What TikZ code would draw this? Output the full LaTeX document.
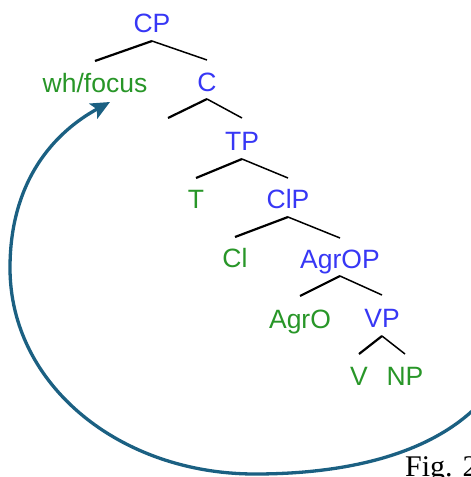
\documentclass[tikz,border=0pt]{standalone}
\usepackage{fontspec}
\setmainfont{Liberation Sans}
\newfontfamily\figfont{Liberation Serif}
\usetikzlibrary{arrows.meta}
\definecolor{catblue}{RGB}{55,55,245}
\definecolor{leafgreen}{RGB}{40,150,40}
\definecolor{movecol}{RGB}{27,96,130}
\tikzset{
  lbl/.style={inner sep=0pt, anchor=base, font=\fontsize{26.5}{30}\selectfont},
  cat/.style={lbl, text=catblue},
  leaf/.style={lbl, text=leafgreen},
  lbranch/.style={line width=2.2pt, black},
  rbranch/.style={line width=1.5pt, black},
  movearrow/.style={line width=3.3pt, movecol, -{Stealth[length=19pt,width=17pt,inset=4pt]}}
}
\begin{document}
\begin{tikzpicture}[x=1pt,y=-1pt]
\useasboundingbox (0,0) rectangle (471,477);
% nodes
\node[cat]  (CP)    at (152,32)  {CP};
\node[leaf] (wh)    at (95,92)   {wh/focus};
\node[cat]  (C)     at (207,91)  {C};
\node[cat]  (TP)    at (242,150) {TP};
\node[leaf] (T)     at (196,208) {T};
\node[cat]  (ClP)   at (288,208) {ClP};
\node[leaf] (Cl)    at (235,267) {Cl};
\node[cat]  (AgrOP) at (340,268) {AgrOP};
\node[leaf] (AgrO)  at (300,328) {AgrO};
\node[cat]  (VP)    at (382,327) {VP};
\node[leaf] (V)     at (359,385) {V};
\node[leaf] (NP)    at (405,385) {NP};
\node[inner sep=0pt, anchor=base west, font=\figfont\fontsize{30}{34}\selectfont] (fig) at (405,476) {Fig. 2};
\coordinate (Cleft) at (168,118);
\coordinate (mstart) at (490,392);
% branches
\draw[lbranch] ([yshift=-9pt]CP.base) -- ([yshift=31pt]wh.base);
\draw[rbranch] ([yshift=-9pt]CP.base) -- ([yshift=31pt]C.base);
\draw[lbranch] ([yshift=-8pt]C.base) -- (Cleft);
\draw[rbranch] ([yshift=-8pt]C.base) -- ([yshift=32pt]TP.base);
\draw[lbranch] ([yshift=-9pt]TP.base) -- ([yshift=30pt]T.base);
\draw[rbranch] ([yshift=-9pt]TP.base) -- ([yshift=30pt]ClP.base);
\draw[lbranch] ([yshift=-9pt]ClP.base) -- ([yshift=30pt]Cl.base);
\draw[rbranch] ([yshift=-9pt]ClP.base) -- ([yshift=30pt]AgrOP.base);
\draw[lbranch] ([yshift=-8pt]AgrOP.base) -- ([yshift=32pt]AgrO.base);
\draw[rbranch] ([yshift=-8pt]AgrOP.base) -- ([yshift=32pt]VP.base);
\draw[lbranch] ([yshift=-9pt]VP.base) -- ([yshift=31pt]V.base);
\draw[rbranch] ([yshift=-9pt]VP.base) -- ([yshift=31pt]NP.base);
% movement arrow
\draw[movearrow] (mstart) .. controls (440,455) and (345,474) .. (255,474)
  .. controls (120,474) and (10,385) .. (10,268)
  .. controls (10,180) and (55,132) .. ([xshift=15pt,yshift=-10pt]wh.base);
\end{tikzpicture}
\end{document}
